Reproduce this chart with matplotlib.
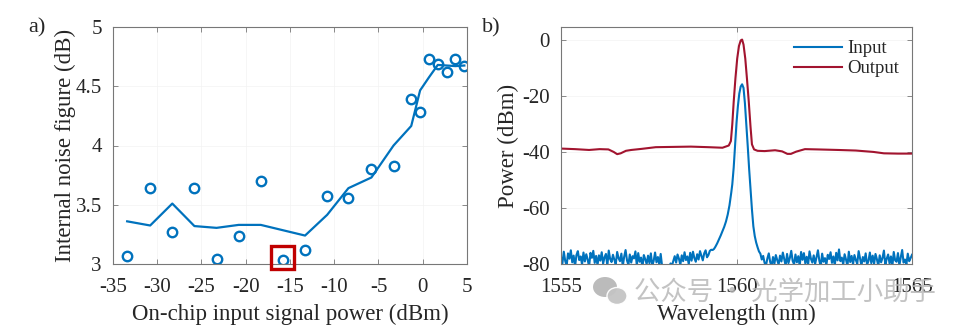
import numpy as np
import matplotlib
matplotlib.use("Agg")
import matplotlib.pyplot as plt
from matplotlib.patches import Rectangle, Ellipse

plt.rcParams['font.family'] = ['Liberation Serif', 'DejaVu Serif']
plt.rcParams['axes.unicode_minus'] = False

BLUE = '#0072BD'
RED = '#A2142F'
AX_COLOR = '#777777'
TXT = '#262626'

# ---- (a) internal noise figure vs. on-chip input power ----
nf_power = [-33.4, -30.8, -28.3, -25.8, -23.3, -20.8, -18.3, -15.8, -13.3, -10.8,
            -8.4, -5.8, -3.3, -1.3, -0.3, 0.7, 1.7, 2.7, 3.7, 4.7]
nf_measured = [3.07, 3.64, 3.27, 3.64, 3.045, 3.24, 3.70, 3.036, 3.115, 3.57,
               3.555, 3.80, 3.83, 4.39, 4.28, 4.73, 4.69, 4.62, 4.73, 4.67]
nf_trend = [3.36, 3.325, 3.51, 3.32, 3.305, 3.33, 3.33, 3.285, 3.24, 3.415,
            3.64, 3.73, 4.00, 4.165, 4.465, 4.575, 4.68, 4.675, 4.67, 4.675]
highlight_idx = 7

# ---- (b) spectra ----
in_left_noise = [
    -77.5, -79.8, -75.6, -78.9, -80.6, -76.2, -78.1, -75.1, -79.4, -77.0, -80.9, -76.8,
    -75.4, -78.6, -77.3, -80.2, -75.9, -79.1, -76.5, -78.4, -81.0, -76.0, -77.8, -75.3,
    -79.6, -77.1, -80.4, -76.9, -78.8, -75.8, -79.9, -77.6, -76.4, -80.7, -75.2, -78.2,
    -79.3, -76.7, -78.5, -80.1, -75.7, -77.9, -79.0, -76.3, -80.8, -77.4, -75.0, -78.7,
    -80.3, -76.6, -79.5, -77.2, -78.0, -75.5, -80.5, -76.1, -79.2, -77.7, -81.2, -76.8,
    -78.3, -80.0, -77.0, -79.7, -76.2, -80.6, -78.9, -75.9, -79.4, -77.5, -80.2, -76.4,
    -80.8, -81.5, -80.4, -81.8, -80.9, -81.3, -79.8, -80.6, -78.9, -77.2, -79.5, -76.6,
    -78.1, -80.3, -76.9, -79.0, -75.8, -78.6, -77.3, -80.1, -76.0, -78.8, -75.6, -77.9,
    -79.2, -76.5, -78.4, -75.4, -77.0, -78.7, -76.2, -75.1, -77.6, -76.8, -75.3, -74.9,
]
in_peak_wl = [1559.32, 1559.36, 1559.40, 1559.45, 1559.50, 1559.55, 1559.60, 1559.65,
              1559.70, 1559.75, 1559.80, 1559.85, 1559.88, 1559.92, 1559.96, 1560.00,
              1560.04, 1560.08, 1560.12, 1560.16, 1560.20, 1560.24, 1560.28, 1560.32,
              1560.36, 1560.40, 1560.44, 1560.48, 1560.52, 1560.56, 1560.60, 1560.64,
              1560.68]
in_peak_pw = [-75.0, -74.6, -73.8, -72.6, -71.2, -69.8, -68.3, -66.7,
              -64.8, -62.3, -59.0, -54.5, -51.5, -45.5, -37.5, -29.5,
              -23.5, -19.0, -16.5, -15.7, -17.0, -22.5, -30.0, -37.8,
              -46.0, -53.5, -60.5, -66.5, -70.0, -72.3, -74.0, -75.5,
              -76.3]
in_right_noise = [
    -78.4, -77.1, -79.6, -80.5, -78.0, -76.2, -79.3, -80.8, -77.5, -79.9, -76.8, -78.6,
    -80.2, -77.0, -79.1, -75.9, -78.3, -80.6, -76.4, -79.7, -77.8, -75.3, -78.9, -80.1,
    -76.6, -79.4, -77.2, -80.7, -75.7, -78.5, -76.1, -79.8, -77.4, -80.3, -75.5, -78.1,
    -79.5, -76.9, -80.0, -77.6, -75.1, -78.8, -80.9, -76.3, -79.2, -77.9, -80.4, -76.7,
    -78.2, -75.8, -79.6, -77.3, -80.5, -76.0, -78.7, -74.8, -79.0, -77.7, -80.2, -76.5,
    -78.4, -80.8, -75.6, -79.3, -77.1, -80.1, -76.8, -78.6, -79.9, -75.4, -78.0, -80.6,
    -77.5, -79.1, -76.2, -80.3, -78.9, -75.9, -79.7, -77.0, -80.0, -76.4, -78.3, -80.7,
    -76.9, -79.4, -77.8, -75.2, -80.4, -78.1, -76.6, -79.8, -77.3, -80.9, -75.7, -78.7,
    -79.2, -76.1, -80.5, -77.6, -75.0, -79.5, -78.4, -80.2, -76.3, -79.0, -77.9, -76.7,
]

out_wl = [1555.0, 1555.4, 1555.8, 1556.1, 1556.35, 1556.5, 1556.6, 1556.7, 1556.85,
          1557.0, 1557.3, 1557.7, 1558.2, 1558.7, 1559.2, 1559.6, 1559.78, 1559.84,
          1559.88, 1559.92, 1559.97, 1560.02, 1560.07, 1560.12, 1560.16, 1560.20,
          1560.25, 1560.30, 1560.35, 1560.40, 1560.44, 1560.50, 1560.6, 1560.8,
          1561.1, 1561.3, 1561.45, 1561.55, 1561.7, 1561.95, 1562.3, 1562.9, 1563.4,
          1563.9, 1564.2, 1564.6, 1565.0]
out_pw = [-38.7, -38.9, -39.2, -38.9, -39.0, -39.9, -40.7, -40.4, -39.5,
          -39.2, -38.8, -38.2, -38.1, -38.0, -38.2, -38.4, -37.6, -36.0,
          -30.0, -22.0, -13.5, -6.5, -2.0, 0.0, 0.3, -1.5,
          -6.5, -14.0, -22.0, -31.0, -37.2, -39.0, -39.5, -39.6,
          -39.3, -39.7, -40.6, -40.6, -39.8, -38.9, -39.0, -39.2, -39.4,
          -39.9, -40.4, -40.5, -40.5]

in_wl = np.concatenate([np.linspace(1555.0, 1559.28, len(in_left_noise)),
                        in_peak_wl,
                        np.linspace(1560.72, 1565.0, len(in_right_noise))])
in_pw = np.concatenate([in_left_noise, in_peak_pw, in_right_noise])

fig = plt.figure(figsize=(9.59, 3.31), dpi=100)
W, H = 959, 331


def px_axes(l, t, r, b):
    return fig.add_axes([l / W, 1 - b / H, (r - l) / W, (b - t) / H])


def style(ax):
    for s in ax.spines.values():
        s.set_color(AX_COLOR)
        s.set_linewidth(0.8)
    ax.tick_params(direction='in', top=True, right=True, length=3.5,
                   width=0.6, color=AX_COLOR, labelsize=15, labelcolor=TXT)
    ax.tick_params(axis='x', pad=10)
    ax.tick_params(axis='y', pad=8)
    ax.grid(True, color='#f3f3f3', linewidth=0.5)
    ax.set_axisbelow(True)


# panel (a)
ax1 = px_axes(113, 27, 467, 264)
ax1.plot(nf_power, nf_trend, color=BLUE, lw=1.6)
ax1.plot(nf_power, nf_measured, 'o', mfc='none', mec=BLUE, mew=1.7, ms=6.8)
ax1.set_xlim(-35, 5)
ax1.set_ylim(3, 5)
ax1.set_xticks(np.arange(-35, 6, 5))
ax1.set_yticks([3, 3.5, 4, 4.5, 5])
ax1.set_yticklabels(['3', '3.5', '4', '4.5', '5'])
style(ax1)
ax1.set_xlabel('On-chip input signal power (dBm)', fontsize=16.5, color=TXT, labelpad=5)
ax1.set_ylabel('Internal noise figure (dB)', fontsize=16.5, color=TXT, labelpad=0)
hx, hy = nf_power[highlight_idx], nf_measured[highlight_idx]
ax1.add_patch(Rectangle((hx - 1.3, hy - 0.078), 2.6, 0.19, fill=False,
                        edgecolor='#C00000', lw=2.4, clip_on=False, zorder=5))

# panel (b)
ax2 = px_axes(561, 27, 912, 264)
ax2.plot(in_wl, in_pw, color=BLUE, lw=1.5, label='Input')
ax2.plot(out_wl, out_pw, color=RED, lw=1.5, label='Output')
ax2.set_xlim(1555, 1565)
ax2.set_ylim(-80, 4.8)
ax2.set_xticks([1555, 1560, 1565])
ax2.set_yticks([0, -20, -40, -60, -80])
style(ax2)
ax2.set_xlabel('Wavelength (nm)', fontsize=16.5, color=TXT, labelpad=5)
ax2.set_ylabel('Power (dBm)', fontsize=16.5, color=TXT, labelpad=2)
leg = ax2.legend(loc='upper right', frameon=False, fontsize=13.5, handlelength=2.6,
                 handletextpad=0.25, labelspacing=0.15, borderaxespad=0.3)
for t in leg.get_texts():
    t.set_color(TXT)

fig.text(28 / W, 1 - 28 / H, 'a)', fontsize=16, color=TXT, va='center')
fig.text(482 / W, 1 - 28 / H, 'b)', fontsize=16, color=TXT, va='center')

# account watermark
wm = '#b4b4b4'
fig.patches.append(Ellipse((605 / W, 1 - 287 / H), 24 / W, 20 / H, transform=fig.transFigure,
                           facecolor=wm, edgecolor='none', alpha=0.9, zorder=10))
fig.patches.append(Ellipse((617 / W, 1 - 296 / H), 20 / W, 17 / H, transform=fig.transFigure,
                           facecolor='#c4c4c4', edgecolor='white', lw=1, alpha=0.95, zorder=11))
fig.text(634 / W, 1 - 292 / H, '公众号 · 光学加工小助手', fontsize=19, color=wm, alpha=0.8,
         family=['Noto Sans CJK SC', 'DejaVu Sans'], va='center', ha='left', zorder=12)

fig.savefig('out.png', dpi=100)
